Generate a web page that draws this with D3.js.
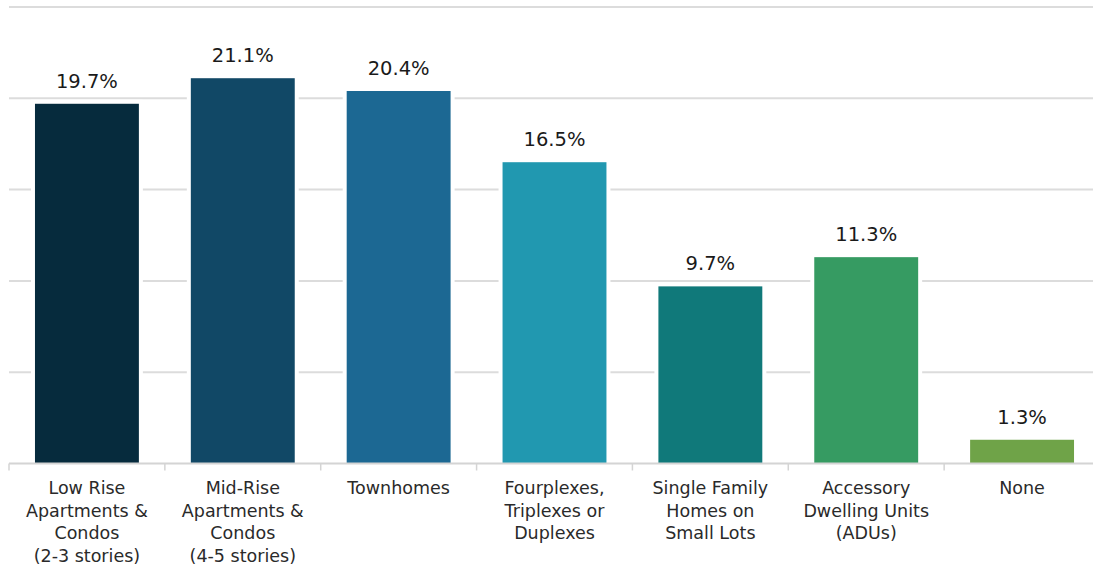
<!DOCTYPE html>
<html>
<head>
<meta charset="utf-8">
<script src="https://cdn.jsdelivr.net/npm/d3@7"></script>
<style>
  html, body { margin: 0; padding: 0; background: #ffffff; }
  svg { display: block; }
  text { font-family: "DejaVu Sans", sans-serif; }
</style>
</head>
<body>
<svg id="chart" width="1093" height="577"></svg>
<script>
const categories = [
  "Low Rise\nApartments &\nCondos\n(2-3 stories)",
  "Mid-Rise\nApartments &\nCondos\n(4-5 stories)",
  "Townhomes",
  "Fourplexes,\nTriplexes or\nDuplexes",
  "Single Family\nHomes on\nSmall Lots",
  "Accessory\nDwelling Units\n(ADUs)",
  "None"
];
const values = [19.7, 21.1, 20.4, 16.5, 9.7, 11.3, 1.3];
const valueLabels = ["19.7%", "21.1%", "20.4%", "16.5%", "9.7%", "11.3%", "1.3%"];
const colors = ["#062b3d", "#114866", "#1c6893", "#2198b0", "#10797a", "#369b62", "#6fa348"];
const gridTicks = [5, 10, 15, 20, 25];

const svg = d3.select("#chart");
const width = 1093, height = 577;

const x = d3.scaleBand()
  .domain(d3.range(categories.length))
  .range([9, 1100])
  .paddingInner(1/3)
  .paddingOuter(1/6);

const y = d3.scaleLinear().domain([0, 25]).range([463.5, 7]);

// gridlines
svg.append("g")
  .selectAll("line")
  .data(gridTicks)
  .join("line")
  .attr("x1", 9).attr("x2", width)
  .attr("y1", d => y(d)).attr("y2", d => y(d))
  .attr("stroke", "#dcdcdc")
  .attr("stroke-width", 2);

// bars
svg.append("g")
  .selectAll("rect")
  .data(values)
  .join("rect")
  .attr("x", (d, i) => x(i))
  .attr("y", d => y(d))
  .attr("width", x.bandwidth())
  .attr("height", d => y(0) - y(d))
  .attr("fill", (d, i) => colors[i])
  .attr("stroke", "#ffffff")
  .attr("stroke-width", 8)
  .attr("paint-order", "stroke");

// value labels
svg.append("g")
  .selectAll("text")
  .data(values)
  .join("text")
  .attr("x", (d, i) => x(i) + x.bandwidth() / 2)
  .attr("y", d => y(d) - 16)
  .attr("text-anchor", "middle")
  .attr("font-size", 19.5)
  .attr("fill", "#1a1a1a")
  .text((d, i) => valueLabels[i]);

// x axis
const gx = svg.append("g").attr("transform", `translate(0,${y(0)})`);
gx.append("line")
  .attr("x1", 9).attr("x2", width)
  .attr("y1", 0).attr("y2", 0)
  .attr("stroke", "#d4d4d4").attr("stroke-width", 2);
const boundaries = d3.range(categories.length + 1).map(i => x.range()[0] + i * x.step());
gx.selectAll("line.tick")
  .data(boundaries)
  .join("line")
  .attr("class", "tick")
  .attr("x1", d => d).attr("x2", d => d)
  .attr("y1", 0).attr("y2", 7)
  .attr("stroke", "#d4d4d4").attr("stroke-width", 1.5);

// category labels
const labels = svg.append("g")
  .selectAll("text")
  .data(categories)
  .join("text")
  .attr("x", (d, i) => x(i) + x.bandwidth() / 2)
  .attr("y", 494)
  .attr("text-anchor", "middle")
  .attr("font-size", 17.5)
  .attr("fill", "#2a2a2a");
labels.each(function(d) {
  const t = d3.select(this);
  d.split("\n").forEach((line, j) => {
    t.append("tspan")
      .attr("x", t.attr("x"))
      .attr("dy", j === 0 ? 0 : 22.5)
      .text(line);
  });
});
</script>
</body>
</html>
